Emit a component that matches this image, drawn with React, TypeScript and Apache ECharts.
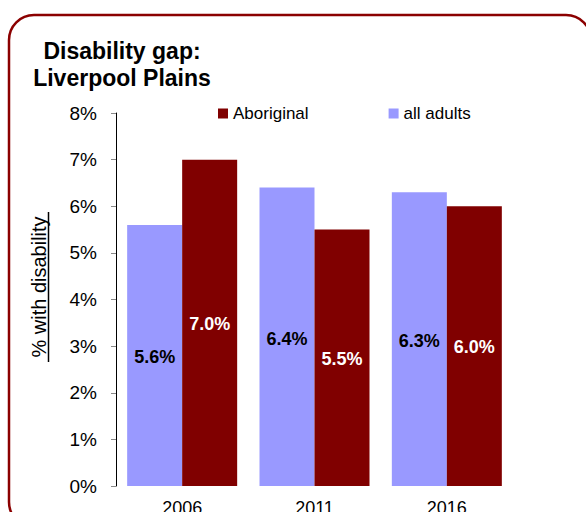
import React, { useEffect, useRef } from "react";
import * as echarts from "echarts";

const categories = ["2006", "2011", "2016"];
const allAdults = [5.6, 6.4, 6.3];
const aboriginal = [7.0, 5.5, 6.0];
const titleText = "Disability gap:\nLiverpool Plains";
const yAxisName = "% with disability";

const FONT = "'Liberation Sans', Arial, sans-serif";

export default function App() {
  const ref = useRef<HTMLDivElement>(null);
  useEffect(() => {
    const chart = echarts.init(ref.current!, null, { renderer: "svg" });
    chart.setOption({
      animation: false,
      backgroundColor: "#ffffff",
      textStyle: { fontFamily: FONT },
      grid: {
        left: 116,
        top: 113,
        right: 73,
        bottom: 26,
        containLabel: false,
        outerBoundsMode: "none",
      },
      legend: {
        data: ["Aboriginal", "all adults"],
        left: 213,
        top: 100,
        icon: "rect",
        itemWidth: 10,
        itemHeight: 10,
        itemGap: 80,
        textStyle: { color: "#000", fontSize: 17, fontFamily: FONT },
      },
      xAxis: {
        type: "category",
        data: categories,
        axisLine: { show: false },
        axisTick: { show: false },
        axisLabel: { color: "#000", fontSize: 18, margin: 13, fontFamily: FONT },
      },
      yAxis: {
        type: "value",
        min: 0,
        max: 8,
        interval: 1,
        axisLine: { show: true, lineStyle: { color: "#000", width: 1 } },
        axisTick: { show: true, length: 5, lineStyle: { color: "#888" } },
        splitLine: { show: false },
        axisLabel: { color: "#000", fontSize: 19, margin: 19, formatter: "{value}%", fontFamily: FONT },
      },
      series: [
        {
          name: "all adults",
          type: "bar",
          data: allAdults,
          barWidth: 55,
          barGap: "0%",
          itemStyle: { color: "#9999ff" },
          label: {
            show: true,
            position: "inside",
            offset: [0, 2],
            formatter: (p: any) => p.value.toFixed(1) + "%",
            color: "#000",
            fontWeight: "bold",
            fontSize: 18,
            fontFamily: FONT,
          },
        },
        {
          name: "Aboriginal",
          type: "bar",
          data: aboriginal,
          barWidth: 55,
          barGap: "0%",
          itemStyle: { color: "#800000" },
          label: {
            show: true,
            position: "inside",
            offset: [0, 1],
            formatter: (p: any) => p.value.toFixed(1) + "%",
            color: "#fff",
            fontWeight: "bold",
            fontSize: 18,
            fontFamily: FONT,
          },
        },
      ],
      graphic: [
        {
          type: "rect",
          shape: { x: 9, y: 15, width: 582, height: 512, r: 25 },
          style: { fill: "none", stroke: "#8b0000", lineWidth: 2.5 },
          silent: true,
        },
        {
          type: "text",
          x: 122,
          y: 64,
          style: {
            text: titleText,
            textAlign: "center",
            textVerticalAlign: "middle",
            font: "bold 23px " + FONT,
            lineHeight: 27,
            fill: "#000",
          },
        },
        {
          type: "text",
          x: 39,
          y: 287,
          rotation: Math.PI / 2,
          style: {
            text: yAxisName,
            textAlign: "center",
            textVerticalAlign: "middle",
            font: "20px " + FONT,
            fill: "#000",
          },
        },
        {
          type: "line",
          shape: { x1: 48.5, y1: 212, x2: 48.5, y2: 362 },
          style: { stroke: "#000", lineWidth: 1.5 },
        },
      ],
    });
    return () => chart.dispose();
  }, []);
  return (
    <div
      ref={ref}
      style={{ position: "absolute", left: 0, top: 0, width: 586, height: 512 }}
    />
  );
}
